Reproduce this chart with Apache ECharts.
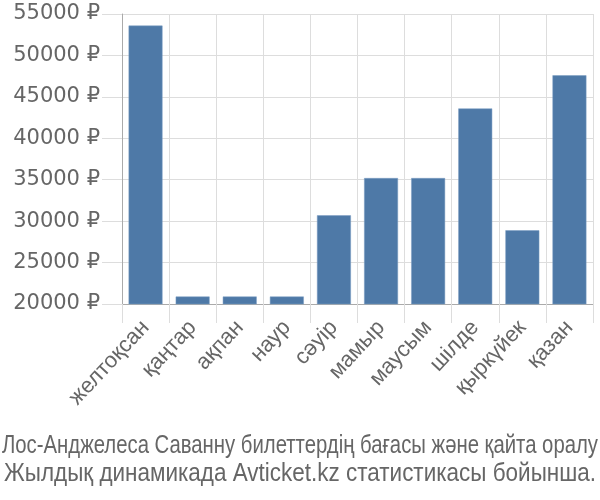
<!DOCTYPE html>
<html>
<head>
<meta charset="utf-8">
<script src="https://cdn.jsdelivr.net/npm/echarts@6/dist/echarts.min.js"></script>
<style>html,body{margin:0;padding:0;background:#fff}#c{width:600px;height:500px}</style>
</head>
<body>
<div id="c"></div>
<script>
var categories = ["желтоқсан", "қаңтар", "ақпан", "наур", "сәуір", "мамыр", "маусым", "шілде", "қыркүйек", "қазан"];
var prices = [53600, 20900, 20900, 20900, 30700, 35200, 35200, 43600, 28900, 47600];
var yTicks = [20000, 25000, 30000, 35000, 40000, 45000, 50000, 55000];
var titleLines = ["Лос-Анджелеса Саванну билеттердің бағасы және қайта оралу", "Жылдық динамикада Avticket.kz статистикасы бойынша."];
var titleWidths = [596, 592];

var titleFont = '25px "Liberation Sans"';
var ctx = document.createElement('canvas').getContext('2d');
ctx.font = titleFont;

var chart = echarts.init(document.getElementById('c'), null, {renderer: 'canvas'});
chart.setOption({
  animation: false,
  grid: {left: 122, right: 7, top: 14, bottom: 196, containLabel: false},
  graphic: titleLines.map(function (t, i) {
    return {
      type: 'text',
      x: 300, y: 446 + i * 28,
      scaleX: titleWidths[i] / ctx.measureText(t).width, scaleY: 1,
      style: {text: t, font: titleFont, fill: '#666', align: 'center', verticalAlign: 'middle'}
    };
  }),
  xAxis: {
    type: 'category',
    data: categories,
    boundaryGap: true,
    axisLine: {show: true, lineStyle: {color: '#aaa', width: 1}},
    axisTick: {show: true, alignWithLabel: false, length: 19, lineStyle: {color: '#ddd'}},
    splitLine: {show: true, lineStyle: {color: '#ddd', width: 1}},
    axisLabel: {rotate: 47, interval: 0, fontFamily: 'Liberation Sans', fontSize: 22, color: '#666', margin: 20}
  },
  yAxis: {
    type: 'value',
    min: yTicks[0],
    max: yTicks[yTicks.length - 1],
    interval: 5000,
    axisLine: {show: true, lineStyle: {color: '#aaa', width: 1}},
    axisTick: {show: true, length: 20, lineStyle: {color: '#ddd'}},
    splitLine: {show: true, lineStyle: {color: '#ddd', width: 1}},
    axisLabel: {fontFamily: 'DejaVu Sans', fontSize: 21, color: '#666', margin: 22, formatter: function (v) { return v + ' ₽'; }}
  },
  series: [{
    type: 'bar',
    data: prices,
    barCategoryGap: '28%',
    itemStyle: {color: '#4e79a7', borderColor: '#7a9cc2', borderWidth: 0.5}
  }]
});
</script>
</body>
</html>
